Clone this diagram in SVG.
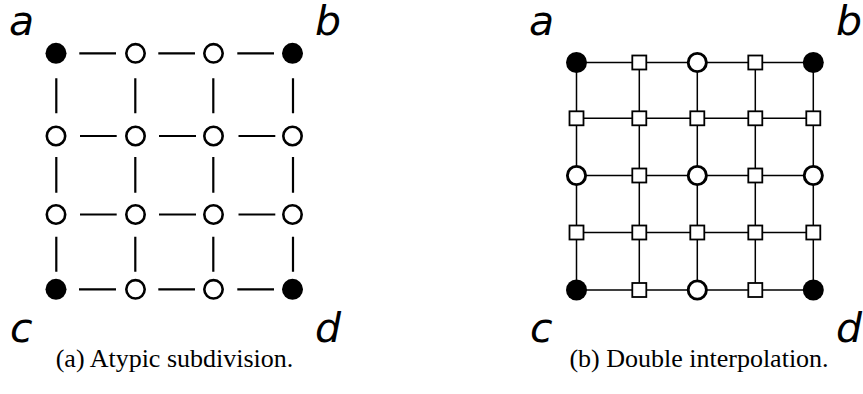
<svg xmlns="http://www.w3.org/2000/svg" width="863" height="394" viewBox="0 0 863 394">
<style>
.bg{fill:#fff}
.lbl{font-family:"DejaVu Sans",sans-serif;font-style:italic;font-size:41px;fill:#000}
.cap{font-family:"Liberation Serif","Times New Roman",serif;font-size:26px;fill:#000;text-anchor:middle}
.ea{stroke:#000;stroke-width:2.2;stroke-linecap:butt;fill:none}
.eb{stroke:#000;stroke-width:1.5;fill:none}
.full{fill:#000}
.holA{fill:#fff;stroke:#000;stroke-width:2.6}
.holB{fill:#fff;stroke:#000;stroke-width:2.9}
.sq{fill:#fff;stroke:#000;stroke-width:1.8}
</style>
<rect class="bg" x="0" y="0" width="863" height="394"/>

<!-- Panel (a) connectors -->
<g id="connectors-a" class="ea">
  <path d="M79.3,53.3H116 M158.3,53.3H195 M237.3,53.3H274"/>
  <path d="M80,136H116.7 M159,136H196 M238.5,136H275.3"/>
  <path d="M80,214.5H116.7 M159,214.5H196 M238.5,214.5H275.3"/>
  <path d="M79,289.3H116 M158.3,289.3H195 M237.3,289.3H274"/>
  <path d="M56.3,78.3V113.3 M135.3,78.3V113.3 M213.3,78.3V113.3 M293,78.3V113.3"/>
  <path d="M56.3,157V192.7 M135.3,157V192.7 M213.3,157V192.7 M293,157V192.7"/>
  <path d="M56.3,236.7V271.7 M135.3,236.7V271.7 M213.3,236.7V271.7 M293,236.7V271.7"/>
</g>

<!-- Panel (a) nodes -->
<g id="a-r1c1"><circle class="full" cx="56" cy="53.3" r="10.5"/></g>
<g id="a-r1c2"><circle class="holA" cx="135.5" cy="53.3" r="9.2"/></g>
<g id="a-r1c3"><circle class="holA" cx="213.5" cy="53.3" r="9.2"/></g>
<g id="a-r1c4"><circle class="full" cx="292.5" cy="53.3" r="10.5"/></g>
<g id="a-r2c1"><circle class="holA" cx="56" cy="136" r="9.2"/></g>
<g id="a-r2c2"><circle class="holA" cx="135.5" cy="136" r="9.2"/></g>
<g id="a-r2c3"><circle class="holA" cx="213.5" cy="136" r="9.2"/></g>
<g id="a-r2c4"><circle class="holA" cx="292.5" cy="136" r="9.2"/></g>
<g id="a-r3c1"><circle class="holA" cx="56" cy="214.5" r="9.2"/></g>
<g id="a-r3c2"><circle class="holA" cx="135.5" cy="214.5" r="9.2"/></g>
<g id="a-r3c3"><circle class="holA" cx="213.5" cy="214.5" r="9.2"/></g>
<g id="a-r3c4"><circle class="holA" cx="292.5" cy="214.5" r="9.2"/></g>
<g id="a-r4c1"><circle class="full" cx="56" cy="289.3" r="10.5"/></g>
<g id="a-r4c2"><circle class="holA" cx="135.5" cy="289.3" r="9.2"/></g>
<g id="a-r4c3"><circle class="holA" cx="213.5" cy="289.3" r="9.2"/></g>
<g id="a-r4c4"><circle class="full" cx="292.5" cy="289.3" r="10.5"/></g>

<g id="labels-a">
  <text class="lbl" x="9" y="35">a</text>
  <text class="lbl" x="315" y="35">b</text>
  <text class="lbl" x="10" y="342">c</text>
  <text class="lbl" x="315" y="342">d</text>
</g>
<text class="cap" x="174.5" y="367">(a) Atypic subdivision.</text>

<!-- Panel (b) connectors -->
<g id="connectors-b" class="eb">
  <path d="M576.5,62.5H813.3 M576.5,118.3H813.3 M576.5,175.5H813.3 M576.5,232.5H813.3 M576.5,290H813.3"/>
  <path d="M576.5,62.5V290 M639.3,62.5V290 M697.3,62.5V290 M755.3,62.5V290 M813.3,62.5V290"/>
</g>

<!-- Panel (b) nodes -->
<g id="b-r1c1"><circle class="full" cx="576.5" cy="62.5" r="10.5"/></g>
<g id="b-r1c2"><rect class="sq" x="632.3" y="55.5" width="14" height="14"/></g>
<g id="b-r1c3"><circle class="holB" cx="697.3" cy="62.5" r="9.1"/></g>
<g id="b-r1c4"><rect class="sq" x="748.3" y="55.5" width="14" height="14"/></g>
<g id="b-r1c5"><circle class="full" cx="813.3" cy="62.5" r="10.5"/></g>

<g id="b-r2c1"><rect class="sq" x="569.5" y="111.3" width="14" height="14"/></g>
<g id="b-r2c2"><rect class="sq" x="632.3" y="111.3" width="14" height="14"/></g>
<g id="b-r2c3"><rect class="sq" x="690.3" y="111.3" width="14" height="14"/></g>
<g id="b-r2c4"><rect class="sq" x="748.3" y="111.3" width="14" height="14"/></g>
<g id="b-r2c5"><rect class="sq" x="806.3" y="111.3" width="14" height="14"/></g>

<g id="b-r3c1"><circle class="holB" cx="576.5" cy="175.5" r="9.1"/></g>
<g id="b-r3c2"><rect class="sq" x="632.3" y="168.5" width="14" height="14"/></g>
<g id="b-r3c3"><circle class="holB" cx="697.3" cy="175.5" r="9.1"/></g>
<g id="b-r3c4"><rect class="sq" x="748.3" y="168.5" width="14" height="14"/></g>
<g id="b-r3c5"><circle class="holB" cx="813.3" cy="175.5" r="9.1"/></g>

<g id="b-r4c1"><rect class="sq" x="569.5" y="225.5" width="14" height="14"/></g>
<g id="b-r4c2"><rect class="sq" x="632.3" y="225.5" width="14" height="14"/></g>
<g id="b-r4c3"><rect class="sq" x="690.3" y="225.5" width="14" height="14"/></g>
<g id="b-r4c4"><rect class="sq" x="748.3" y="225.5" width="14" height="14"/></g>
<g id="b-r4c5"><rect class="sq" x="806.3" y="225.5" width="14" height="14"/></g>

<g id="b-r5c1"><circle class="full" cx="576.5" cy="290" r="10.5"/></g>
<g id="b-r5c2"><rect class="sq" x="632.3" y="283" width="14" height="14"/></g>
<g id="b-r5c3"><circle class="holB" cx="697.3" cy="290" r="9.1"/></g>
<g id="b-r5c4"><rect class="sq" x="748.3" y="283" width="14" height="14"/></g>
<g id="b-r5c5"><circle class="full" cx="813.3" cy="290" r="10.5"/></g>

<g id="labels-b">
  <text class="lbl" x="529" y="35">a</text>
  <text class="lbl" x="836" y="35">b</text>
  <text class="lbl" x="530" y="342">c</text>
  <text class="lbl" x="836" y="342">d</text>
</g>
<text class="cap" x="699" y="367">(b) Double interpolation.</text>
</svg>
